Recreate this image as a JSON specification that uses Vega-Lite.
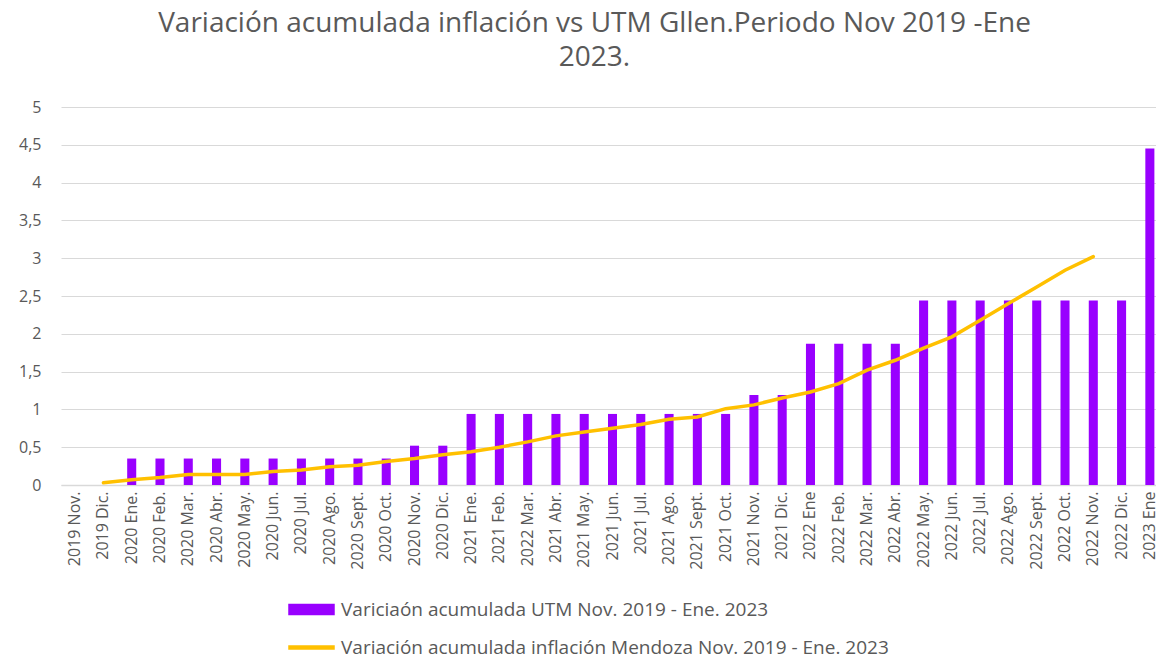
{
  "$schema": "https://vega.github.io/schema/vega-lite/v6.json",
  "width": 1103,
  "height": 378,
  "autosize": {"type": "none"},
  "padding": {"left": 61, "top": 107, "right": 0, "bottom": 177},
  "background": "white",
  "config": {
    "view": {"stroke": null},
    "font": "Open Sans",
    "axisY": {
      "title": null,
      "domain": false,
      "ticks": false,
      "gridColor": "#d9d9d9",
      "gridWidth": 1.2,
      "labelFontSize": 16,
      "labelColor": "#595959",
      "labelFont": "Open Sans",
      "labelPadding": 20,
      "labelOverlap": false
    }
  },
  "title": {
    "text": ["Variación acumulada inflación vs UTM Gllen.Periodo Nov 2019 -Ene", "2023."],
    "fontSize": 28,
    "fontWeight": "normal",
    "color": "#595959",
    "font": "Open Sans",
    "lineHeight": 34,
    "anchor": "middle",
    "dx": -18,
    "offset": 27
  },
  "data": {
    "values": [
      {"mes": "2019 Nov.", "utm": null, "inflacion": null},
      {"mes": "2019 Dic.", "utm": null, "inflacion": 0.03},
      {"mes": "2020 Ene.", "utm": 0.35, "inflacion": 0.07},
      {"mes": "2020 Feb.", "utm": 0.35, "inflacion": 0.10},
      {"mes": "2020 Mar.", "utm": 0.35, "inflacion": 0.14},
      {"mes": "2020 Abr.", "utm": 0.35, "inflacion": 0.14},
      {"mes": "2020 May.", "utm": 0.35, "inflacion": 0.14},
      {"mes": "2020 Jun.", "utm": 0.35, "inflacion": 0.18},
      {"mes": "2020 Jul.", "utm": 0.35, "inflacion": 0.20},
      {"mes": "2020 Ago.", "utm": 0.35, "inflacion": 0.24},
      {"mes": "2020 Sept.", "utm": 0.35, "inflacion": 0.26},
      {"mes": "2020 Oct.", "utm": 0.35, "inflacion": 0.31},
      {"mes": "2020 Nov.", "utm": 0.52, "inflacion": 0.35},
      {"mes": "2020 Dic.", "utm": 0.52, "inflacion": 0.40},
      {"mes": "2021 Ene.", "utm": 0.94, "inflacion": 0.44},
      {"mes": "2021 Feb.", "utm": 0.94, "inflacion": 0.50},
      {"mes": "2022 Mar.", "utm": 0.94, "inflacion": 0.57},
      {"mes": "2021 Abr.", "utm": 0.94, "inflacion": 0.65},
      {"mes": "2021 May.", "utm": 0.94, "inflacion": 0.70},
      {"mes": "2021 Jun.", "utm": 0.94, "inflacion": 0.75},
      {"mes": "2021 Jul.", "utm": 0.94, "inflacion": 0.80},
      {"mes": "2021 Ago.", "utm": 0.94, "inflacion": 0.87},
      {"mes": "2021 Sept.", "utm": 0.94, "inflacion": 0.90},
      {"mes": "2021 Oct.", "utm": 0.94, "inflacion": 1.01},
      {"mes": "2021 Nov.", "utm": 1.19, "inflacion": 1.06},
      {"mes": "2021 Dic.", "utm": 1.19, "inflacion": 1.15},
      {"mes": "2022 Ene", "utm": 1.87, "inflacion": 1.23},
      {"mes": "2022 Feb.", "utm": 1.87, "inflacion": 1.34},
      {"mes": "2022 Mar. ", "utm": 1.87, "inflacion": 1.52},
      {"mes": "2022 Abr.", "utm": 1.87, "inflacion": 1.65},
      {"mes": "2022 May.", "utm": 2.44, "inflacion": 1.81},
      {"mes": "2022 Jun.", "utm": 2.44, "inflacion": 1.96},
      {"mes": "2022 Jul.", "utm": 2.44, "inflacion": 2.18},
      {"mes": "2022 Ago.", "utm": 2.44, "inflacion": 2.40},
      {"mes": "2022 Sept.", "utm": 2.44, "inflacion": 2.62},
      {"mes": "2022 Oct.", "utm": 2.44, "inflacion": 2.84},
      {"mes": "2022 Nov.", "utm": 2.44, "inflacion": 3.02},
      {"mes": "2022 Dic.", "utm": 2.44, "inflacion": null},
      {"mes": "2023 Ene", "utm": 4.45, "inflacion": null}
    ]
  },
  "encoding": {
    "x": {
      "field": "mes",
      "type": "nominal",
      "sort": null,
      "scale": {
        "domain": ["2019 Nov.", "2019 Dic.", "2020 Ene.", "2020 Feb.", "2020 Mar.", "2020 Abr.", "2020 May.", "2020 Jun.", "2020 Jul.", "2020 Ago.", "2020 Sept.", "2020 Oct.", "2020 Nov.", "2020 Dic.", "2021 Ene.", "2021 Feb.", "2022 Mar.", "2021 Abr.", "2021 May.", "2021 Jun.", "2021 Jul.", "2021 Ago.", "2021 Sept.", "2021 Oct.", "2021 Nov.", "2021 Dic.", "2022 Ene", "2022 Feb.", "2022 Mar. ", "2022 Abr.", "2022 May.", "2022 Jun.", "2022 Jul.", "2022 Ago.", "2022 Sept.", "2022 Oct.", "2022 Nov.", "2022 Dic.", "2023 Ene"],
        "paddingInner": 0.68,
        "paddingOuter": 0.34
      },
      "axis": {
        "title": null,
        "labelAngle": -90,
        "labelFontSize": 16,
        "labelColor": "#595959",
        "labelFont": "Open Sans",
        "labelPadding": 6,
        "ticks": false,
        "domainColor": "#d9d9d9",
        "domainWidth": 1.5,
        "grid": false,
        "labelOverlap": false
      }
    },
    "y": {
      "type": "quantitative",
      "scale": {"domain": [0, 5], "nice": false},
      "axis": {
        "title": null,
        "values": [0, 0.5, 1, 1.5, 2, 2.5, 3, 3.5, 4, 4.5, 5],
        "labelExpr": "replace(format(datum.value, '~g'), '.', ',')"
      }
    }
  },
  "layer": [
    {
      "mark": {"type": "bar", "color": "#9900FF"},
      "encoding": {
        "y": {
          "field": "utm",
          "type": "quantitative",
          "scale": {"domain": [0, 5], "nice": false},
          "axis": {
            "title": null,
            "values": [0, 0.5, 1, 1.5, 2, 2.5, 3, 3.5, 4, 4.5, 5],
            "labelExpr": "replace(format(datum.value, '~g'), '.', ',')"
          }
        },
        "color": {
          "datum": "Variciaón acumulada UTM Nov. 2019 - Ene. 2023",
          "scale": {
            "domain": ["Variciaón acumulada UTM Nov. 2019 - Ene. 2023", "Variación acumulada  inflación Mendoza Nov. 2019 - Ene. 2023"],
            "range": ["#9900FF", "#FFC000"]
          },
          "legend": {
            "orient": "none",
            "legendX": 227,
            "legendY": 479,
            "title": null,
            "direction": "vertical",
            "symbolType": "M-1,-0.22H1V0.22H-1Z",
            "symbolSize": 2025,
            "labelFontSize": 19,
            "labelLimit": 0,
            "labelColor": "#595959",
            "labelFont": "Open Sans",
            "labelOffset": 6,
            "rowPadding": 4,
            "encode": {
              "symbols": {
                "update": {
                  "shape": {"signal": "datum.value === 'Variciaón acumulada UTM Nov. 2019 - Ene. 2023' ? 'M-1,-0.22H1V0.22H-1Z' : 'M-1,-0.07H1V0.07H-1Z'"},
                  "fill": {"signal": "datum.value === 'Variciaón acumulada UTM Nov. 2019 - Ene. 2023' ? '#9900FF' : '#FFC000'"},
                  "stroke": {"value": "transparent"},
                  "opacity": {"value": 1},
                  "fillOpacity": {"value": 1}
                }
              }
            }
          }
        }
      }
    },
    {
      "mark": {"type": "line", "strokeWidth": 3.5, "color": "#FFC000", "strokeCap": "round"},
      "encoding": {
        "y": {"field": "inflacion", "type": "quantitative"},
        "color": {"datum": "Variación acumulada  inflación Mendoza Nov. 2019 - Ene. 2023"}
      }
    }
  ]
}
